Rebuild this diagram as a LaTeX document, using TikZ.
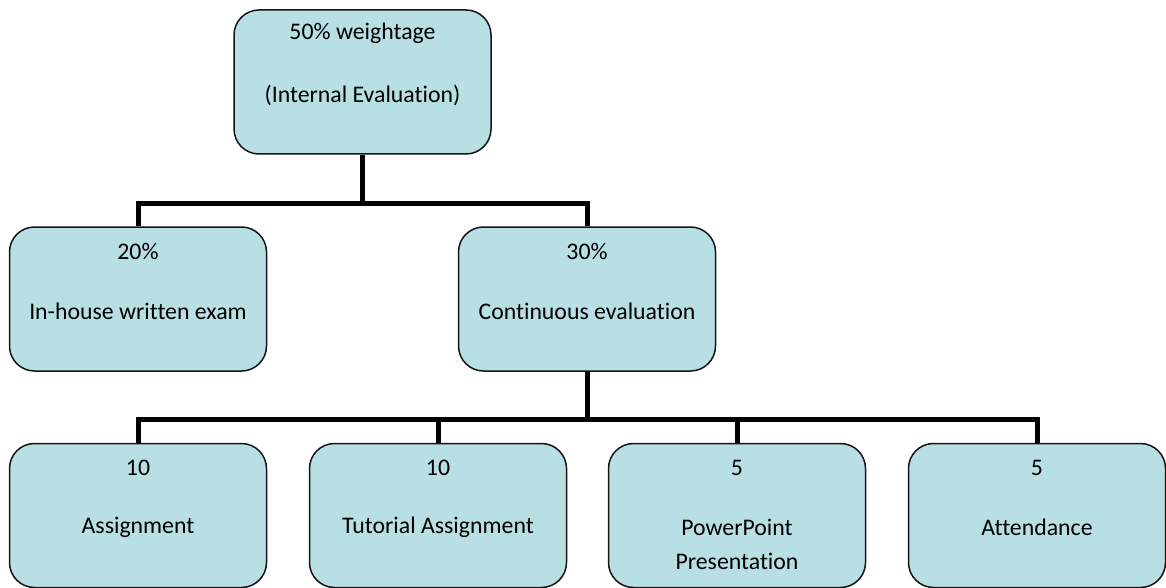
\documentclass[tikz,border=0pt]{standalone}
\usepackage{fontspec}
\setmainfont{Carlito}[Ligatures=NoCommon]
\usepackage{tikz}
\usetikzlibrary{calc,positioning}
\usepackage{xcolor}
\definecolor{boxfill}{RGB}{184,223,228}
\definecolor{boxline}{RGB}{20,20,20}
\tikzset{
  wbox/.style={rectangle,rounded corners=25pt,draw=boxline,fill=boxfill,
               line width=1.5pt,minimum width=257pt,minimum height=144pt,
               inner sep=0pt},
  lbl/.style={inner sep=0pt,align=center,font=\fontsize{23.8}{34}\selectfont},
  link/.style={draw=black,line width=5pt},
}

\begin{document}
\begin{tikzpicture}[x=1pt,y=1pt]
  \useasboundingbox (0,0) rectangle (1166,-588);
  % boxes
  \node[wbox] (top) at (362.5,-82) {};
  \node[wbox] (inhouse) at (138,-299) {};
  \node[wbox] (cont) at (587,-299) {};
  \node[wbox] (asg) at (138,-515.5) {};
  \node[wbox] (tut) at (438,-515.5) {};
  \node[wbox] (ppt) at (737,-515.5) {};
  \node[wbox] (att) at (1037,-515.5) {};
  % texts
  \node[lbl] (topA) at ($(top.north)+(0,-24)$) {50\% weightage};
  \node[lbl] (topB) at ($(top.north)+(0,-86)$) {(Internal Evaluation)};
  \node[lbl] (inhouseA) at ($(inhouse.north)+(0,-25)$) {20\%};
  \node[lbl] (inhouseB) at ($(inhouse.north)+(0,-85)$) {In-house written exam};
  \node[lbl] (contA) at ($(cont.north)+(0,-25)$) {30\%};
  \node[lbl] (contB) at ($(cont.north)+(0,-85)$) {Continuous evaluation};
  \node[lbl] (asgA) at ($(asg.north)+(0,-25)$) {10};
  \node[lbl] (asgB) at ($(asg.north)+(0,-85)$) {Assignment};
  \node[lbl] (tutA) at ($(tut.north)+(0,-25)$) {10};
  \node[lbl] (tutB) at ($(tut.north)+(0,-85)$) {Tutorial Assignment};
  \node[lbl] (pptA) at ($(ppt.north)+(0,-25)$) {5};
  \node[lbl] (pptB) at ($(ppt.north)+(0,-102)$) {PowerPoint\\Presentation};
  \node[lbl] (attA) at ($(att.north)+(0,-25)$) {5};
  \node[lbl] (attB) at ($(att.north)+(0,-85)$) {Attendance};
  % connectors
  \coordinate (j1) at (362.5,-203);
  \coordinate (j2) at (587,-419);
  \draw[link] (top.south) -- (j1);
  \draw[link] (j1) -| (inhouse.north);
  \draw[link] (j1) -| (cont.north);
  \draw[link] (cont.south) -- (j2);
  \foreach \b in {asg,tut,ppt,att}
    {\draw[link] (j2) -| (\b.north);}
\end{tikzpicture}
\end{document}
